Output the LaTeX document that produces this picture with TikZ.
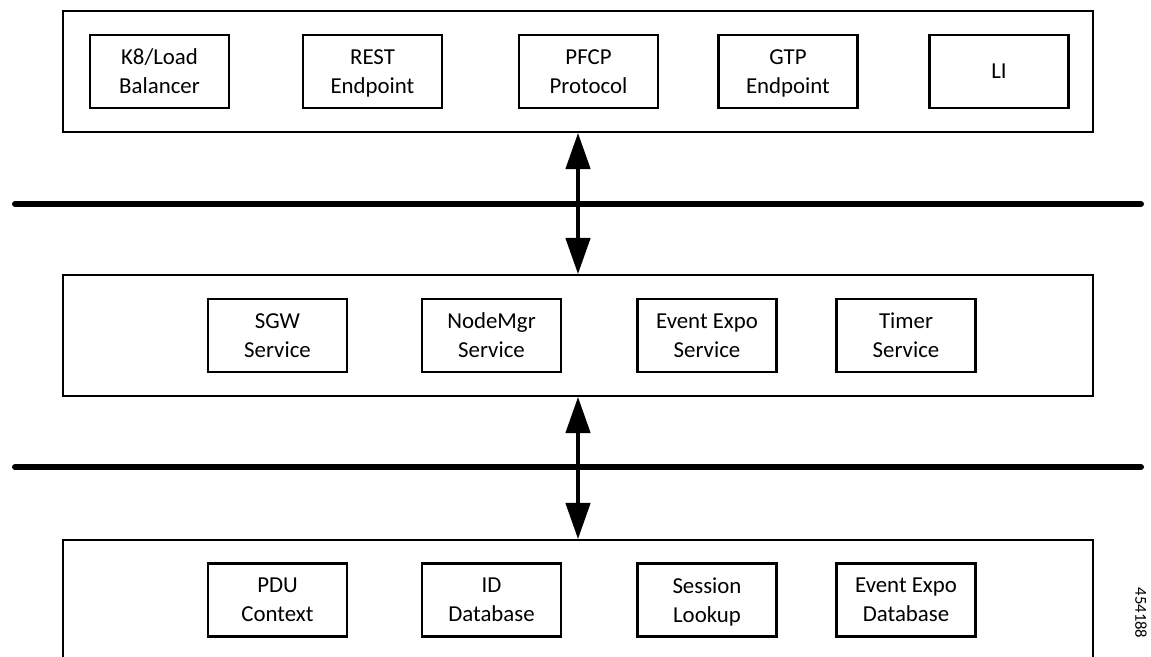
\documentclass[tikz,border=0pt]{standalone}
\usepackage{fontspec}
\setmainfont{Carlito}
\usetikzlibrary{arrows.meta}

\begin{document}
\begin{tikzpicture}[x=0.02cm,y=-0.02cm,
		layer/.style={draw, line width=0.85pt, minimum width=20.6cm, minimum height=2.42cm, inner sep=0pt},
		block/.style={draw, line width=1.4pt, minimum width=2.78cm, minimum height=1.46cm, align=center, inner sep=0pt,
			font=\fontsize{13}{16.5}\selectfont, text depth=0pt},
		bus/.style={line width=3.4pt, line cap=round},
		dblarrow/.style={line width=2.8pt, {Triangle[width=0.48cm,length=0.73cm]}-{Triangle[width=0.48cm,length=0.73cm]}}]
		\clip (0,0) rectangle (1151,656);
		% layers
		\node[layer] (frontlayer) at (578,71.5) {};
		\node[layer] (svclayer) at (578,335.5) {};
		\node[layer] (dblayer) at (578,600.5) {};
		% front end blocks
		\node[block] (k8lb) at (159.5,71.5) {K8/Load\\Balancer};
		\node[block] (rest) at (372.5,71.5) {REST\\Endpoint};
		\node[block] (pfcp) at (588.5,71.5) {PFCP\\Protocol};
		\node[block] (gtp) at (788,71.5) {GTP\\Endpoint};
		\node[block] (li) at (999,71.5) {LI};
		% service blocks
		\node[block] (sgw) at (277.5,335.5) {SGW\\Service};
		\node[block] (nodemgr) at (491.5,335.5) {NodeMgr\\Service};
		\node[block] (evexpo) at (707,335.5) {Event Expo\\Service};
		\node[block] (timer) at (906,335.5) {Timer\\Service};
		% database blocks
		\node[block] (pdu) at (277.5,600) {PDU\\Context};
		\node[block] (iddb) at (491.5,600) {ID\\Database};
		\node[block] (session) at (707,600) {Session\\Lookup};
		\node[block] (evexpodb) at (906,600) {Event Expo\\Database};
		% buses
		\coordinate (busAw) at (15,204);
		\coordinate (busAe) at (1141,204);
		\coordinate (busBw) at (15,467);
		\coordinate (busBe) at (1141,467);
		\draw[bus] (busAw) -- (busAe);
		\draw[bus] (busBw) -- (busBe);
		\draw[dblarrow] (frontlayer.south) -- (svclayer.north);
		\draw[dblarrow] (svclayer.south) -- (dblayer.north);
		\node[rotate=-90, font=\fontsize{9.5}{11}\selectfont] (figno) at (1141,613) {454188};
	\end{tikzpicture}
\end{document}
